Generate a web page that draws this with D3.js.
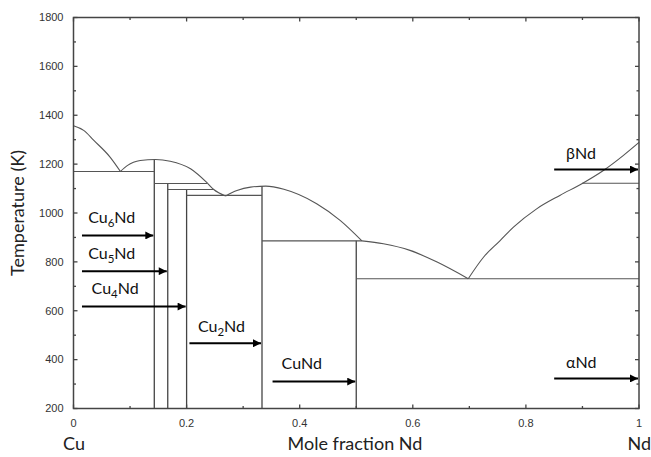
<!DOCTYPE html>
<html><head><meta charset="utf-8">
<script src="https://cdn.jsdelivr.net/npm/d3@7"></script>
<style>body{margin:0;background:#fff}svg{display:block}</style>
</head><body>
<script>
// ---- data ----
const xTicks = [0, 0.2, 0.4, 0.6, 0.8, 1];
const xTickLabels = ["0", "0.2", "0.4", "0.6", "0.8", "1"];
const yTicks = [200, 400, 600, 800, 1000, 1200, 1400, 1600, 1800];
// liquidus segments [x, T]
const liqCu = [[0,1357],[0.018,1338],[0.036,1297],[0.065,1228],[0.083,1170]];
const liqCu6Nd = [[0.083,1170],[0.095,1194],[0.118,1215],[0.145,1219],[0.171,1212],[0.207,1181],[0.236,1124],[0.248,1096],[0.269,1070]];
const liqCu2Nd = [[0.269,1070],[0.289,1092],[0.313,1106],[0.340,1110],[0.372,1097],[0.430,1038],[0.472,969],[0.510,886]];
const liqCuNd = [[0.510,886],[0.548,874],[0.595,847],[0.643,799],[0.698,731]];
const liqNd = [[0.698,731],[0.725,819],[0.754,886],[0.778,942],[0.819,1017],[0.860,1072],[0.899,1120],[0.937,1174],[0.972,1235],[1.0,1289]];
// compounds: composition, top temperature
const compX = [1/7, 1/6, 0.2, 1/3, 0.5];
const compTop = [1219, 1121, 1096, 1110, 886];
// invariant horizontals: T, x from, x to
const invT = [1170, 1121, 1096, 1072, 886, 731, 1122];
const invX1 = [0, 1/7, 1/6, 0.2, 1/3, 0.5, 0.899];
const invX2 = [1/7, 0.236, 0.248, 1/3, 0.51, 1, 1];
// phase labels and arrows
const phaseBase = ["Cu", "Cu", "Cu", "Cu", "CuNd", "βNd", "αNd"];
const phaseSub = ["6", "5", "4", "2", "", "", ""];
const phaseRest = ["Nd", "Nd", "Nd", "Nd", "", "", ""];
const arrowX1 = [0.015, 0.015, 0.015, 0.205, 0.352, 0.85, 0.85];
const arrowX2 = [1/7, 1/6, 0.2, 1/3, 0.5, 1, 1];
const arrowT = [908, 762, 617, 467, 310, 1178, 323];
const labelX = [0.026, 0.026, 0.032, 0.220, 0.368, 0.871, 0.871];
const labelT = [959, 811, 667, 514, 361, 1219, 364];

// ---- layout ----
const W = 651, H = 457;
const svg = d3.select("body").append("svg").attr("width", W).attr("height", H);
const x = d3.scaleLinear().domain([0, 1]).range([73.5, 639]);
const y = d3.scaleLinear().domain([200, 1800]).range([408.5, 17.5]);
const lineCol = "#555";

const defs = svg.append("defs");
defs.append("marker").attr("id", "ah").attr("viewBox", "0 0 10 10")
  .attr("refX", 10).attr("refY", 5).attr("markerWidth", 4.5).attr("markerHeight", 4)
  .attr("markerUnits", "strokeWidth").attr("orient", "auto")
  .append("path").attr("d", "M0,0L10,5L0,10Z").attr("fill", "#000");

const g = svg.append("g");

// compounds vertical
g.selectAll(".comp").data(compX).join("line")
  .attr("x1", d => x(d)).attr("x2", d => x(d))
  .attr("y1", y(200)).attr("y2", (d, i) => y(compTop[i]))
  .attr("stroke", "#444").attr("stroke-width", 1.3);

// invariants
g.selectAll(".inv").data(invT).join("line")
  .attr("x1", (d, i) => x(invX1[i])).attr("x2", (d, i) => x(invX2[i]))
  .attr("y1", d => y(d)).attr("y2", d => y(d))
  .attr("stroke", lineCol).attr("stroke-width", 1.1);

// liquidus
const ln = d3.line().x(d => x(d[0])).y(d => y(d[1])).curve(d3.curveMonotoneX);
[liqCu, liqCu6Nd, liqCu2Nd, liqCuNd, liqNd].forEach(seg => {
  g.append("path").attr("d", ln(seg)).attr("fill", "none")
    .attr("stroke", lineCol).attr("stroke-width", 1.1);
});

// frame
g.append("rect").attr("x", x(0)).attr("y", y(1800))
  .attr("width", x(1) - x(0)).attr("height", y(200) - y(1800))
  .attr("fill", "none").attr("stroke", "#444").attr("stroke-width", 1.5);

// ticks inward
const xMinor = d3.range(0, 1.0001, 0.1);
const yMinor = d3.range(200, 1801, 100);
const tickCol = "#444";
xMinor.forEach((v, i) => {
  const L = (i % 2 === 0) ? 4 : 2.5;
  g.append("line").attr("x1", x(v)).attr("x2", x(v)).attr("y1", y(200)).attr("y2", y(200) - L).attr("stroke", tickCol).attr("stroke-width", 1.3);
  g.append("line").attr("x1", x(v)).attr("x2", x(v)).attr("y1", y(1800)).attr("y2", y(1800) + L).attr("stroke", tickCol).attr("stroke-width", 1.3);
});
yMinor.forEach((v, i) => {
  const L = (i % 2 === 0) ? 4 : 2.5;
  g.append("line").attr("y1", y(v)).attr("y2", y(v)).attr("x1", x(0)).attr("x2", x(0) + L).attr("stroke", tickCol).attr("stroke-width", 1.3);
  g.append("line").attr("y1", y(v)).attr("y2", y(v)).attr("x1", x(1)).attr("x2", x(1) - L).attr("stroke", tickCol).attr("stroke-width", 1.3);
});

// tick labels
const tickFont = "'Liberation Sans', Arial, sans-serif";
g.selectAll(".yl").data(yTicks).join("text")
  .attr("x", x(0) - 10).attr("y", d => y(d)).attr("dy", "0.35em")
  .attr("text-anchor", "end").attr("font-family", tickFont).attr("font-size", 11)
  .attr("fill", "#333").text(d => d);
g.selectAll(".xl").data(xTicks).join("text")
  .attr("x", d => x(d)).attr("y", y(200) + 15).attr("dy", "0.35em")
  .attr("text-anchor", "middle").attr("font-family", tickFont).attr("font-size", 11)
  .attr("fill", "#333").text((d, i) => xTickLabels[i]);

// axis titles
const labFont = "Lato, 'Open Sans', sans-serif";
svg.append("text").attr("transform", `translate(24,${(y(200) + y(1800)) / 2}) rotate(-90)`)
  .attr("text-anchor", "middle").attr("font-family", labFont).attr("font-size", 18)
  .attr("fill", "#222").text("Temperature (K)");
svg.append("text").attr("x", 355).attr("y", 450)
  .attr("text-anchor", "middle").attr("font-family", labFont).attr("font-size", 18)
  .attr("fill", "#222").text("Mole fraction Nd");
svg.append("text").attr("x", 63).attr("y", 450)
  .attr("font-family", labFont).attr("font-size", 18).attr("fill", "#222").text("Cu");
svg.append("text").attr("x", 651).attr("y", 450).attr("text-anchor", "end")
  .attr("font-family", labFont).attr("font-size", 18).attr("fill", "#222").text("Nd");

// arrows
g.selectAll(".arr").data(arrowT).join("line")
  .attr("x1", (d, i) => x(arrowX1[i])).attr("x2", (d, i) => x(arrowX2[i]) - 1)
  .attr("y1", d => y(d)).attr("y2", d => y(d))
  .attr("stroke", "#000").attr("stroke-width", 2).attr("marker-end", "url(#ah)");

// phase labels
phaseBase.forEach((b, i) => {
  const t = g.append("text").attr("x", x(labelX[i])).attr("y", y(labelT[i]))
    .attr("font-family", labFont).attr("font-size", 16).attr("fill", "#111");
  t.append("tspan").text(b);
  if (phaseSub[i]) {
    t.append("tspan").attr("font-size", 11.5).attr("dy", 4).text(phaseSub[i]);
    t.append("tspan").attr("dy", -4).text(phaseRest[i]);
  }
});
</script>
</body></html>
